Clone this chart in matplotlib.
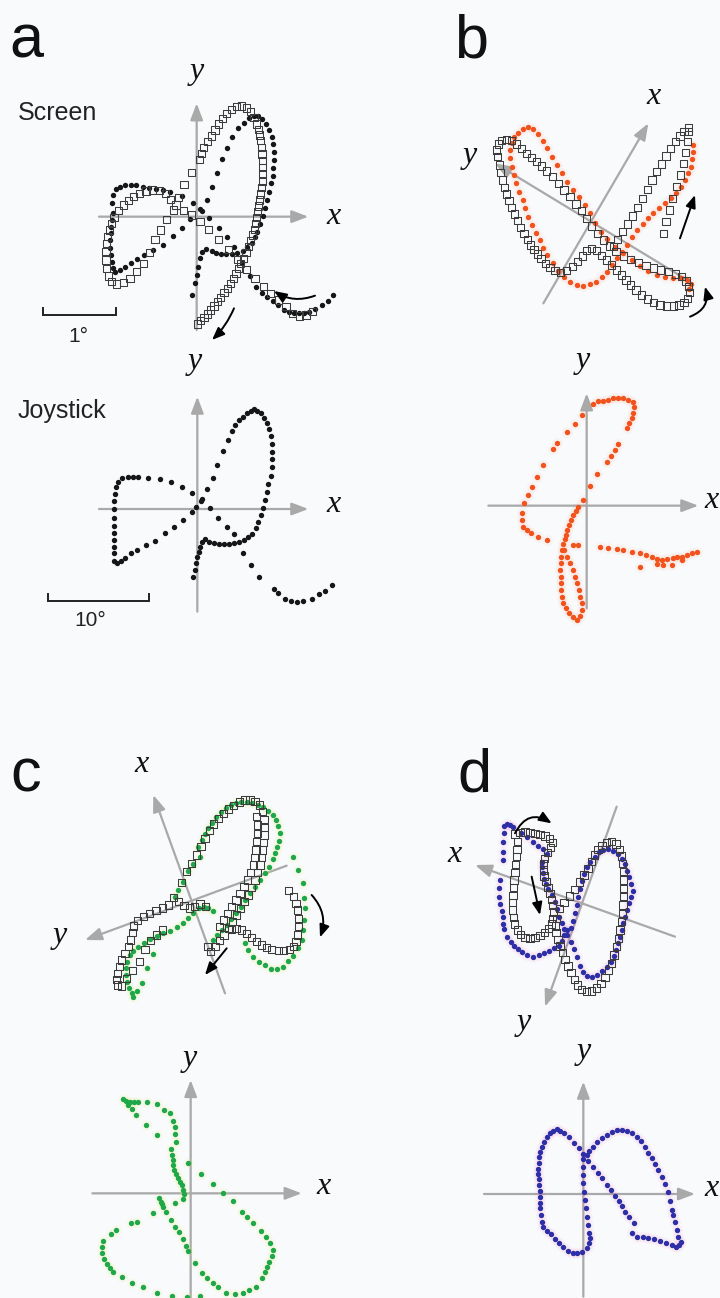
import numpy as np
import matplotlib
matplotlib.use("Agg")
import matplotlib.pyplot as plt

# ------------------------------------------------------------------
# Digitised trajectories (digitiser units: 3 units = 1 reference pixel,
# each panel has its own digitiser origin = crossing of its axes)
# ------------------------------------------------------------------
DIGI = 3.0

# ---- panel a, screen: cursor (filled dots) and target (open squares)
A_SCREEN_DOTS = [(1000,885),(985,903),(965,915),(945,928),(928,935),(912,938),(897,940),(882,940),(868,937),
    (852,930),(835,915),(818,903),(800,892),(785,880),(768,862),(750,828),(725,790),(702,742),(680,712),
    (657,685),(628,655),(605,632),(578,610),(545,588),(510,576),(488,570),(468,567),(448,565),(428,560),
    (408,556),(392,555),(375,556),(360,560),(348,568),(340,585),(335,610),(338,640),(335,660),(333,680),
    (332,700),(330,720),(330,745),(332,765),(335,785),(338,805),(345,815),(360,810),(375,800),(392,790),
    (410,778),(432,765),(460,750),(490,735),(518,708),(545,685),(570,658),(600,628),(620,600),(637,560),
    (650,518),(665,478),(680,445),(695,410),(715,383),(732,368),(748,355),(762,347),(775,348),(787,358),
    (797,372),(808,390),(815,410),(820,432),(822,455),(822,480),(820,505),(818,528),(813,550),(808,575),
    (800,600),(795,625),(788,648),(780,672),(772,695),(765,712),(755,728),(742,742),(728,752),(712,760),
    (695,762),(678,763),(662,762),(648,760),(635,752),(618,748),(606,755),(600,775),(595,800),(590,825),
    (585,848),(577,885)]
A_SCREEN_SQUARES = [(592,972),(602,962),(612,952),(622,942),(632,930),(642,918),(652,905),(662,892),(672,878),
    (682,865),(692,850),(700,835),(708,820),(715,805),(722,790),(730,775),(738,758),(745,740),(752,722),
    (758,705),(763,688),(767,670),(770,652),(773,635),(776,618),(779,600),(782,582),(785,563),(787,543),
    (788,522),(788,502),(787,482),(786,462),(784,442),(782,422),(779,405),(775,388),(770,372),(762,352),
    (752,335),(740,324),(725,318),(710,320),(695,328),(680,340),(667,355),(655,372),(645,390),(635,408),
    (622,425),(610,442),(604,460),(598,478),(575,518),(552,553),(535,592),(520,630),(500,658),(482,690),
    (465,718),(448,758),(430,790),(410,815),(390,835),(370,848),(350,852),(335,845),(326,828),(320,805),
    (318,780),(318,755),(320,730),(322,710),(328,690),(334,670),(342,652),(355,632),(370,615),(385,602),
    (400,590),(418,580),(438,573),(458,570),(478,572),(496,580),(512,598),(528,615),(550,632),(575,645),
    (600,665),(625,688),(655,718),(685,748),(712,778),(740,808),(765,835),(790,860),(812,880),(835,900),
    (858,920),(878,940),(898,948),(918,945),(938,935)]

# ---- panel a, joystick
A_JOYSTICK = [(580,740),(584,720),(588,700),(592,682),(596,665),(600,650),(606,636),(616,628),(628,635),
    (642,640),(657,642),(672,642),(687,642),(702,640),(717,636),(731,630),(745,622),(757,611),(767,594),
    (775,576),(782,556),(789,533),(795,510),(800,486),(805,462),(812,438),(815,412),(815,388),(815,365),
    (815,342),(813,318),(808,298),(800,280),(792,265),(782,250),(772,242),(762,238),(752,242),(742,250),
    (730,260),(718,270),(706,285),(695,302),(683,330),(668,362),(652,405),(638,443),(622,478),(605,508),
    (588,530),(575,545),(550,570),(522,590),(495,610),(465,632),(437,645),(412,660),(392,670),(376,683),
    (362,692),(350,700),(342,692),(342,670),(342,650),(342,630),(342,610),(342,588),(342,565),(342,537),
    (342,512),(344,492),(349,470),(355,455),(366,444),(385,440),(400,440),(415,440),(445,443),(480,447),
    (513,457),(545,470),(577,490),(603,512),(630,535),(655,565),(680,590),(702,612),(730,668),(752,705),
    (778,740),(822,778),(835,790),(855,808),(872,812),(890,815),(910,813),(935,808),(958,792),(975,782),
    (995,766)]

# ---- panel b, screen
B_SCREEN_DOTS = [(505,380),(490,388),(475,398),(462,412),(455,430),(450,450),(450,475),(455,500),(462,525),
    (468,550),(478,575),(488,600),(495,625),(505,650),(515,675),(528,700),(540,720),(550,745),(562,765),
    (578,790),(595,812),(612,830),(630,845),(650,855),(670,857),(690,852),(708,845),(725,830),(740,815),
    (755,795),(770,775),(785,755),(800,735),(815,712),(830,690),(848,672),(865,655),(880,640),(898,625),
    (915,610),(932,595),(948,580),(962,560),(975,540),(985,520),(992,500),(997,478),(1000,455),(998,435),
    (520,387),(535,402),(548,422),(560,445),(575,470),(590,495),(605,520),(620,545),(640,570),(658,592),
    (675,615),(690,640),(705,668),(722,695),(742,718),(765,740),(790,760),(815,780),(840,797),(865,812),
    (890,824),(915,832),(940,834),(962,834),(980,840),(992,852),(988,868)]
B_SCREEN_SQUARES = [(412,470),(410,450),(415,432),(425,422),(440,418),(455,422),(470,432),(485,445),(500,460),
    (515,472),(530,485),(545,498),(560,513),(577,530),(595,550),(612,570),(630,590),(648,612),(665,632),
    (680,655),(695,678),(712,700),(730,720),(748,738),(768,755),(790,768),(812,778),(835,788),(858,797),
    (880,804),(902,810),(925,815),(947,822),(965,830),(978,843),(986,860),(988,878),(983,895),(972,907),
    (957,915),(940,918),(920,918),(900,915),(880,908),(862,897),(845,885),(828,870),(812,855),(798,840),
    (784,825),(770,810),(755,795),(740,780),(725,766),(710,752),(695,745),(680,752),(667,768),(652,785),
    (637,800),(620,812),(602,818),(585,812),(570,802),(556,790),(543,776),(532,762),(522,748),(512,735),
    (502,718),(492,700),(482,682),(472,662),(463,642),(455,622),(447,602),(440,582),(433,562),(427,540),
    (422,518),(418,495),
    (910,700),(918,665),(928,630),(938,595),(950,560),(962,525),(970,490),(977,458),(982,425),(986,395),
    (985,383),(972,395),(960,408),(946,425),(932,445),(918,468),(904,492),(890,515),(876,540),(862,568),
    (848,595),(833,622),(818,648),(802,672),(787,695),(773,718),(760,740)]

# ---- panel b, joystick
B_JOYSTICK = [(700,222),(715,213),(730,212),(745,210),(760,205),(775,203),(790,205),(805,210),(818,217),
    (822,232),(820,248),(815,265),(808,280),(800,295),(775,342),(765,360),(752,378),(740,395),(712,432),
    (690,468),(668,510),(655,530),(647,542),(640,555),(633,570),(628,585),(622,600),(618,614),(614,628),
    (610,642),(607,660),(604,680),(602,700),(601,720),(602,740),(602,760),(603,780),(606,800),(610,818),
    (618,835),(628,850),(640,862),(650,870),(660,858),(665,840),(665,820),(660,800),(656,780),(651,760),
    (645,740),(638,720),(630,700),(620,680),(612,660),
    (640,645),(655,645),(720,650),(745,655),(770,657),(790,660),(815,665),(840,668),(858,675),(875,680),
    (890,688),(905,690),(922,688),(938,685),(952,682),(966,680),(980,676),(995,670),(1010,665),(892,702),
    (910,706),(935,705),(965,690),(840,712),
    (665,255),(645,283),(620,305),(592,340),(578,358),(550,405),(530,440),(515,470),(505,495),(492,520),
    (487,548),(487,570),(490,590),(500,600),(512,610),(535,620),(562,630)]

# ---- panel c, screen
C_SCREEN_DOTS = [(595,440),(605,420),(615,402),(625,385),(635,370),(648,352),(662,337),(677,323),(692,314),
    (708,309),(724,306),(740,305),(757,308),(773,315),(790,322),(805,332),(818,345),(828,360),(835,378),
    (840,400),(838,422),(832,442),(826,460),(818,478),(808,500),(795,520),(780,540),(765,560),(750,580),
    (736,600),(722,620),(708,640),(694,658),(680,675),(665,690),(650,705),(638,720),
    (600,470),(580,492),(565,512),(548,545),(535,570),(525,590),
    (598,625),(612,620),(625,625),(640,633),(580,640),(565,655),(548,668),(530,682),(510,692),(490,700),
    (470,708),(450,718),(432,728),(415,740),(400,752),(390,765),(382,785),(378,805),(378,825),(382,845),
    (388,865),(395,880),(400,890),(410,872),(425,848),(440,805),(460,762),
    (880,470),(895,510),(908,550),(912,595),(915,625),(913,660),(910,690),(905,720),(895,745),(880,768),
    (865,783),(848,800),(830,807),(812,808),(795,795),(778,785),(760,770),(745,750),(735,728)]
C_SCREEN_SQUARES = [(352,855),(350,838),(352,820),(358,800),(365,780),(375,760),(385,740),(392,720),(398,698),
    (400,678),(412,662),(430,650),(448,640),(468,632),(488,624),(505,615),(520,592),(536,604),(552,616),
    (568,624),(584,620),(600,612),(616,620),
    (365,858),(380,835),(398,812),(418,785),(435,748),(452,722),(470,705),(488,690),
    (545,548),(560,515),(575,490),(590,465),(603,440),(615,415),(628,392),(640,372),(655,355),(670,340),
    (685,327),(700,316),(718,306),(735,300),(750,300),(765,305),(778,315),(788,335),(792,358),(792,382),
    (792,405),(790,428),(788,450),(785,472),(780,495),(773,518),(765,540),(755,562),(745,585),(733,605),
    (722,625),(710,645),(698,665),(685,685),(672,705),(658,722),(645,740),(632,755),(624,740),
    (770,350),(772,375),(772,400),(770,425),(768,450),(765,472),(760,495),(752,518),(742,540),(732,560),
    (720,580),(708,600),(695,620),(682,640),(670,660),(658,680),
    (865,572),(880,590),(888,610),(893,630),(895,655),(895,680),(893,705),(888,725),(880,740),(868,748),
    (850,752),(835,752),(815,748),(800,742),(785,735),(770,725),(755,712),(740,700),(725,690),(710,685),
    (695,688)]

# ---- panel c, joystick
C_JOYSTICK = [(370,208),(378,214),(390,215),(402,215),(415,215),(440,215),(470,222),(492,240),(510,250),
    (520,272),(525,292),(525,312),(527,335),(514,358),(517,375),(520,390),(519,405),(523,420),(528,433),
    (533,445),(540,456),(545,466),(550,480),(552,492),(548,506),(525,520),
    (385,225),(395,237),(408,255),(438,285),(472,316),
    (478,505),(482,515),(487,522),(490,532),(497,545),(512,570),(525,590),(537,607),(548,628),(557,648),
    (563,662),(585,700),(605,730),(622,745),(640,760),(655,772),(678,788),(705,792),(728,790),(748,780),
    (768,770),(785,745),(795,725),(802,710),(808,695),(815,678),(818,660),(810,640),(798,622),(782,602),
    (758,580),(740,560),(725,545),(700,512),(670,488),(638,462),(602,432),(563,400),
    (458,550),(412,575),(392,578),(348,600),(333,612),(310,632),(305,650),(305,668),(312,686),(320,702),
    (330,715),(340,727),(365,740),(395,760),(428,772),(472,790),(515,798),(560,800),(600,797)]

# ---- panel d, screen
D_SCREEN_DOTS = [(432,378),(440,372),(450,374),(458,380),(432,398),(430,425),(430,455),(428,480),(420,540),
    (418,565),(418,590),(420,612),(425,632),(430,652),(430,672),(433,688),(442,712),(452,727),(462,737),
    (473,747),(487,757),(502,765),(520,770),(538,766),(553,760),(568,752),(582,745),(596,738),(605,722),
    (612,705),(620,690),
    (482,398),(500,410),(518,425),(535,437),(548,448),(560,462),(546,485),(545,502),(548,520),(552,537),
    (558,552),(565,567),(575,585),(585,605),(592,628),(598,650),(605,670),(612,688),(622,705),(632,725),
    (641,748),(650,772),(660,797),(670,815),(682,828),(697,830),(712,824),(727,814),(740,800),(752,785),
    (761,768),(768,750),(775,730),(780,710),(785,690),(790,670),(795,650),(800,630),(806,610),(812,590),
    (818,572),(814,552),(806,532),(800,512),(794,492),(785,476),(774,462),(760,452),(745,447),(730,449),
    (717,457),(704,470),(690,485),(680,502),(672,522),(666,542),(660,566),(655,590),(650,615),(645,640),
    (640,662),(633,685)]
D_SCREEN_SQUARES = [(465,402),(480,398),(495,396),(510,397),(525,400),(540,403),(555,408),(568,415),(578,428),
    (572,442),(562,458),(553,475),(550,492),(550,510),(552,528),(558,545),(564,562),(570,580),(575,598),
    (578,617),(580,636),(578,655),(574,672),(565,686),(553,697),(540,706),(525,712),(510,716),(495,713),
    (482,703),(472,690),(464,672),(460,652),(458,630),(458,608),(459,586),(460,563),(462,540),(465,517),
    (467,494),(469,470),(471,448),(473,425),
    (598,625),(612,608),(628,588),(643,568),(658,546),(672,525),(684,505),(694,485),(704,465),(714,448),
    (726,436),(740,428),(755,425),(768,432),(778,448),(784,468),(788,490),(790,515),(790,540),(790,565),
    (790,590),(789,615),(787,640),(784,665),(780,690),(775,715),(769,740),(762,765),(754,790),(745,812),
    (735,832),(723,850),(710,864),(695,873),(680,875),(665,868),(653,855),(643,838),(633,818),(624,798),
    (615,778),(607,758),(600,738),(594,718),(588,698),(586,678),(590,655)]

# ---- panel d, joystick
D_JOYSTICK = [(590,298),(600,302),(580,303),(570,310),(561,320),(553,335),(546,350),(541,365),(538,382),
    (537,400),(535,418),(535,432),(537,448),(538,465),(539,482),(540,500),(540,518),(540,535),(542,555),
    (545,575),(550,590),(560,602),(572,613),(585,626),(598,640),(610,652),(623,662),(638,668),(652,670),
    (666,665),(680,655),(688,640),(691,625),(686,608),(683,585),(680,560),(677,535),(675,510),(673,485),
    (670,460),(668,435),(668,410),(670,388),
    (612,308),(627,322),(642,338),(656,355),(670,372),(685,392),(700,410),(714,428),(727,445),(740,465),
    (752,480),(765,497),(776,512),(786,528),(796,545),(808,562),(822,578),(815,608),(832,620),(848,622),
    (865,625),(882,628),(900,632),(918,638),(935,645),(948,652),(958,645),(962,635),(955,620),(950,600),
    (945,575),(940,555),(936,540),(930,512),(925,485),(915,462),(905,440),(895,420),(885,402),(875,385),
    (865,368),(855,350),(842,334),(830,320),(815,310),(800,304),(785,300),(770,300),(755,305),(740,315),
    (726,325),(712,337),(698,350),(688,362),(680,375)]

# ------------------------------------------------------------------
# Layout / styling (reference pixels)
# ------------------------------------------------------------------
W, H = 720, 1298
BG = "#f8fafc"
GRAY = "#a9a9a9"
DOT_BLACK = "#161616"
SQ_EDGE = "#3c3c3c"
ORANGE = "#f2521c"
GREEN = "#1fa84a"
BLUE = "#2c2fa6"

PANELS = {
    "a_top": dict(offset=(0, 0), origin=(590, 650), box=(0, 0, 360, 350)),
    "a_bot": dict(offset=(0, 330), origin=(592, 537), box=(0, 330, 360, 680)),
    "b_top": dict(offset=(360, 0), origin=(690, 655), box=(360, 0, 720, 340)),
    "b_bot": dict(offset=(360, 330), origin=(680, 527), box=(360, 330, 720, 680)),
    "c_top": dict(offset=(0, 700), origin=(575, 602), box=(0, 700, 360, 1040)),
    "c_bot": dict(offset=(0, 1030), origin=(572, 490), box=(0, 1030, 360, 1298)),
    "d_top": dict(offset=(360, 700), origin=(666, 610), box=(360, 700, 720, 1040)),
    "d_bot": dict(offset=(360, 1030), origin=(670, 492), box=(360, 1030, 720, 1298)),
}

fig = plt.figure(figsize=(W / 100, H / 100), dpi=100)
fig.patch.set_facecolor(BG)


def conv(pts, origin):
    a = np.asarray(pts, dtype=float).reshape(-1, 2)
    return (a[:, 0] - origin[0]) / DIGI, (origin[1] - a[:, 1]) / DIGI


def make_axes(spec):
    x0, y0, x1, y1 = spec["box"]
    ox = spec["offset"][0] + spec["origin"][0] / DIGI
    oy = spec["offset"][1] + spec["origin"][1] / DIGI
    ax = fig.add_axes([x0 / W, 1 - y1 / H, (x1 - x0) / W, (y1 - y0) / H])
    ax.set_xlim(x0 - ox, x1 - ox)
    ax.set_ylim(oy - y1, oy - y0)
    ax.axis("off")
    ax.patch.set_alpha(0)
    return ax


def axis_arrow(ax, org, start, tip):
    sx, sy = conv([start], org)
    tx, ty = conv([tip], org)
    ax.annotate("", xy=(tx[0], ty[0]), xytext=(sx[0], sy[0]),
                arrowprops=dict(arrowstyle="-|>,head_length=1.0,head_width=0.38",
                                color=GRAY, lw=1.6, shrinkA=0, shrinkB=0),
                annotation_clip=False, zorder=1)


def black_arrow(ax, org, start, tip, rad=0.0):
    sx, sy = conv([start], org)
    tx, ty = conv([tip], org)
    ax.annotate("", xy=(tx[0], ty[0]), xytext=(sx[0], sy[0]),
                arrowprops=dict(arrowstyle="-|>,head_length=0.75,head_width=0.3",
                                color="black", lw=1.4, shrinkA=0, shrinkB=0,
                                connectionstyle=f"arc3,rad={rad}"),
                annotation_clip=False, zorder=6)


def axis_label(ax, org, pos, s, ha="center"):
    x, y = conv([pos], org)
    ax.text(x[0], y[0], s, family="Liberation Serif", style="italic", fontsize=23,
            ha=ha, va="center", color="#111111", clip_on=False)


def dots(ax, org, pts, color, halo=None, halo_alpha=0.08):
    x, y = conv(pts, org)
    if halo is not None:
        ax.scatter(x, y, s=60, color=halo, alpha=halo_alpha, lw=0, zorder=2)
    ax.scatter(x, y, s=15, color=color, lw=0, zorder=3)


def squares(ax, org, pts):
    x, y = conv(pts, org)
    ax.scatter(x, y, s=26, marker="s", facecolors="none", edgecolors=SQ_EDGE,
               linewidths=0.75, zorder=4)


axes = {k: make_axes(v) for k, v in PANELS.items()}

# ---- panel a (screen)
ax, org = axes["a_top"], PANELS["a_top"]["origin"]
axis_arrow(ax, org, (297, 650), (925, 650))
axis_arrow(ax, org, (590, 990), (590, 310))
axis_label(ax, org, (1000, 650), "x")
axis_label(ax, org, (590, 215), "y")
dots(ax, org, A_SCREEN_DOTS, DOT_BLACK)
squares(ax, org, A_SCREEN_SQUARES)
black_arrow(ax, org, (945, 887), (822, 873), rad=-0.25)
black_arrow(ax, org, (702, 925), (636, 1020), rad=-0.1)
sx, sy = conv([(130, 925), (130, 945), (348, 945), (348, 925)], org)
ax.plot(sx, sy, color="#222222", lw=1.4, solid_joinstyle="miter")
lx, ly = conv([(235, 1008)], org)
ax.text(lx[0], ly[0], "1°", family="Liberation Sans", fontsize=15, ha="center", va="center",
        color="#222222", clip_on=False)

# ---- panel a (joystick)
ax, org = axes["a_bot"], PANELS["a_bot"]["origin"]
axis_arrow(ax, org, (297, 537), (925, 537))
axis_arrow(ax, org, (592, 845), (592, 200))
axis_label(ax, org, (1000, 522), "x")
axis_label(ax, org, (585, 95), "y")
dots(ax, org, A_JOYSTICK, DOT_BLACK)
sx, sy = conv([(143, 793), (143, 812), (447, 812), (447, 793)], org)
ax.plot(sx, sy, color="#222222", lw=1.4, solid_joinstyle="miter")
lx, ly = conv([(270, 873)], org)
ax.text(lx[0], ly[0], "10°", family="Liberation Sans", fontsize=15, ha="center", va="center",
        color="#222222", clip_on=False)

# ---- panel b (screen)
ax, org = axes["b_top"], PANELS["b_top"]["origin"]
axis_arrow(ax, org, (550, 910), (865, 370))
axis_arrow(ax, org, (990, 845), (405, 490))
axis_label(ax, org, (880, 290), "x")
axis_label(ax, org, (330, 465), "y")
dots(ax, org, B_SCREEN_DOTS, ORANGE, halo="#ff7a50", halo_alpha=0.06)
squares(ax, org, B_SCREEN_SQUARES)
black_arrow(ax, org, (960, 715), (1005, 585))
black_arrow(ax, org, (990, 950), (1035, 860), rad=0.45)

# ---- panel b (joystick)
ax, org = axes["b_bot"], PANELS["b_bot"]["origin"]
axis_arrow(ax, org, (385, 527), (1015, 527))
axis_arrow(ax, org, (680, 835), (680, 190))
axis_label(ax, org, (1077, 512), "x", ha="right")
axis_label(ax, org, (668, 92), "y")
dots(ax, org, B_JOYSTICK, ORANGE, halo="#ff7a50", halo_alpha=0.06)

# ---- panel c (screen)
ax, org = axes["c_top"], PANELS["c_top"]["origin"]
axis_arrow(ax, org, (675, 880), (460, 285))
axis_arrow(ax, org, (860, 497), (255, 720))
axis_label(ax, org, (425, 195), "x")
axis_label(ax, org, (180, 708), "y")
dots(ax, org, C_SCREEN_DOTS, GREEN, halo="#e8f060", halo_alpha=0.10)
squares(ax, org, C_SCREEN_SQUARES)
black_arrow(ax, org, (680, 745), (615, 825))
black_arrow(ax, org, (935, 585), (960, 712), rad=-0.3)

# ---- panel c (joystick)
ax, org = axes["c_bot"], PANELS["c_bot"]["origin"]
axis_arrow(ax, org, (277, 490), (905, 490))
axis_arrow(ax, org, (572, 850), (572, 150))
axis_label(ax, org, (970, 470), "x")
axis_label(ax, org, (570, 85), "y")
dots(ax, org, C_JOYSTICK, GREEN, halo="#e8f060", halo_alpha=0.10)

# ---- panel d (screen)
ax, org = axes["d_top"], PANELS["d_top"]["origin"]
axis_arrow(ax, org, (770, 320), (555, 920))
axis_arrow(ax, org, (945, 710), (345, 495))
axis_label(ax, org, (285, 465), "x")
axis_label(ax, org, (490, 968), "y")
dots(ax, org, D_SCREEN_DOTS, BLUE, halo="#ff6fc0", halo_alpha=0.08)
squares(ax, org, D_SCREEN_SQUARES)
black_arrow(ax, org, (465, 400), (575, 370), rad=-0.55)
black_arrow(ax, org, (515, 530), (540, 645))

# ---- panel d (joystick)
ax, org = axes["d_bot"], PANELS["d_bot"]["origin"]
axis_arrow(ax, org, (372, 492), (1005, 492))
axis_arrow(ax, org, (670, 800), (670, 155))
axis_label(ax, org, (1077, 477), "x", ha="right")
axis_label(ax, org, (670, 65), "y")
dots(ax, org, D_JOYSTICK, BLUE, halo="#ff6fc0", halo_alpha=0.08)

# ---- panel letters and row labels
for letter, (px, py) in {"a": (9, 57), "b": (454, 57), "c": (10, 792), "d": (457, 792)}.items():
    fig.text(px / W, 1 - py / H, letter, family="Liberation Sans", fontsize=44,
             ha="left", va="baseline", color="#111111")
fig.text(18 / W, 1 - 120 / H, "Screen", family="Liberation Sans", fontsize=18,
         ha="left", va="baseline", color="#222222")
fig.text(18 / W, 1 - 418 / H, "Joystick", family="Liberation Sans", fontsize=18,
         ha="left", va="baseline", color="#222222")

fig.savefig("out.png", dpi=100, facecolor=BG)
